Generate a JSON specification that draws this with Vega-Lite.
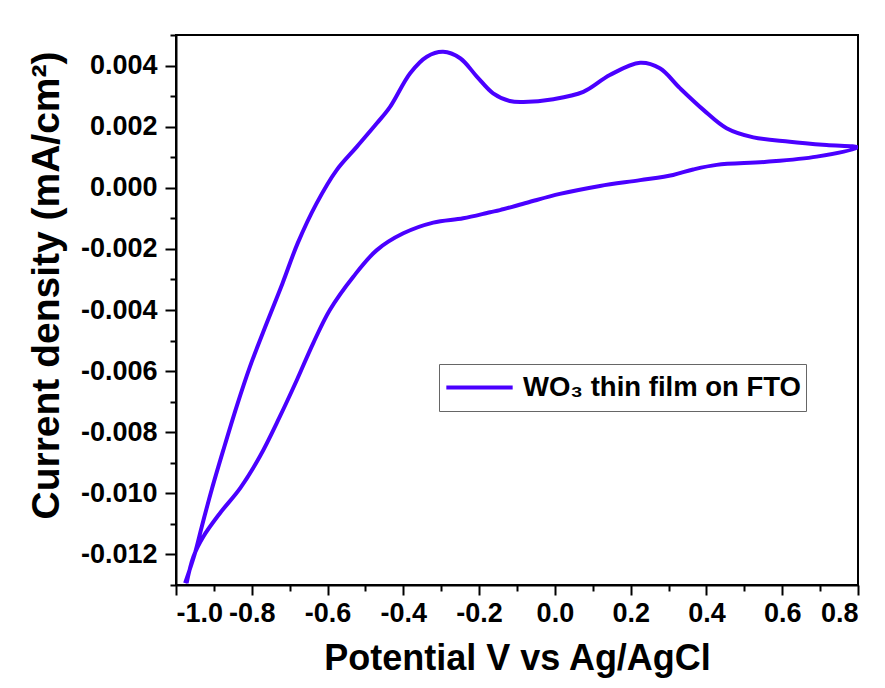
{
  "$schema": "https://vega.github.io/schema/vega-lite/v6.json",
  "width": 682,
  "height": 550,
  "autosize": {"type": "none"},
  "padding": {"left": 176, "top": 35, "right": 27, "bottom": 103},
  "background": "white",
  "config": {
    "view": {"stroke": "black", "strokeWidth": 2},
    "font": "Liberation Sans",
    "axis": {
      "grid": false,
      "domainColor": "black",
      "domainWidth": 2,
      "tickColor": "black",
      "tickWidth": 2,
      "labelColor": "black",
      "labelFont": "Liberation Sans",
      "labelFontWeight": "bold",
      "labelFontSize": 27,
      "titleFont": "Liberation Sans",
      "titleFontWeight": "bold",
      "titleColor": "black"
    }
  },
  "datasets": {
    "cv": [
      {"i": 1, "v": -0.976, "j": -0.01294, "s": "WO₃ thin film on FTO"},
      {"i": 2, "v": -0.950, "j": -0.01196, "s": "WO₃ thin film on FTO"},
      {"i": 3, "v": -0.932, "j": -0.01109, "s": "WO₃ thin film on FTO"},
      {"i": 4, "v": -0.906, "j": -0.00989, "s": "WO₃ thin film on FTO"},
      {"i": 5, "v": -0.875, "j": -0.00858, "s": "WO₃ thin film on FTO"},
      {"i": 6, "v": -0.840, "j": -0.00716, "s": "WO₃ thin film on FTO"},
      {"i": 7, "v": -0.805, "j": -0.00586, "s": "WO₃ thin film on FTO"},
      {"i": 8, "v": -0.761, "j": -0.00444, "s": "WO₃ thin film on FTO"},
      {"i": 9, "v": -0.719, "j": -0.00313, "s": "WO₃ thin film on FTO"},
      {"i": 10, "v": -0.679, "j": -0.00182, "s": "WO₃ thin film on FTO"},
      {"i": 11, "v": -0.629, "j": -0.00051, "s": "WO₃ thin film on FTO"},
      {"i": 12, "v": -0.576, "j": 0.00058, "s": "WO₃ thin film on FTO"},
      {"i": 13, "v": -0.523, "j": 0.00134, "s": "WO₃ thin film on FTO"},
      {"i": 14, "v": -0.470, "j": 0.00211, "s": "WO₃ thin film on FTO"},
      {"i": 15, "v": -0.435, "j": 0.00265, "s": "WO₃ thin film on FTO"},
      {"i": 16, "v": -0.382, "j": 0.00375, "s": "WO₃ thin film on FTO"},
      {"i": 17, "v": -0.338, "j": 0.00429, "s": "WO₃ thin film on FTO"},
      {"i": 18, "v": -0.295, "j": 0.00445, "s": "WO₃ thin film on FTO"},
      {"i": 19, "v": -0.250, "j": 0.00424, "s": "WO₃ thin film on FTO"},
      {"i": 20, "v": -0.206, "j": 0.00364, "s": "WO₃ thin film on FTO"},
      {"i": 21, "v": -0.163, "j": 0.00309, "s": "WO₃ thin film on FTO"},
      {"i": 22, "v": -0.119, "j": 0.00284, "s": "WO₃ thin film on FTO"},
      {"i": 23, "v": -0.083, "j": 0.00281, "s": "WO₃ thin film on FTO"},
      {"i": 24, "v": -0.004, "j": 0.00290, "s": "WO₃ thin film on FTO"},
      {"i": 25, "v": 0.075, "j": 0.00314, "s": "WO₃ thin film on FTO"},
      {"i": 26, "v": 0.145, "j": 0.00369, "s": "WO₃ thin film on FTO"},
      {"i": 27, "v": 0.225, "j": 0.00409, "s": "WO₃ thin film on FTO"},
      {"i": 28, "v": 0.277, "j": 0.00391, "s": "WO₃ thin film on FTO"},
      {"i": 29, "v": 0.330, "j": 0.00326, "s": "WO₃ thin film on FTO"},
      {"i": 30, "v": 0.392, "j": 0.00255, "s": "WO₃ thin film on FTO"},
      {"i": 31, "v": 0.453, "j": 0.00195, "s": "WO₃ thin film on FTO"},
      {"i": 32, "v": 0.524, "j": 0.00165, "s": "WO₃ thin film on FTO"},
      {"i": 33, "v": 0.620, "j": 0.00151, "s": "WO₃ thin film on FTO"},
      {"i": 34, "v": 0.717, "j": 0.00140, "s": "WO₃ thin film on FTO"},
      {"i": 35, "v": 0.800, "j": 0.00132, "s": "WO₃ thin film on FTO"},
      {"i": 36, "v": 0.691, "j": 0.00102, "s": "WO₃ thin film on FTO"},
      {"i": 37, "v": 0.559, "j": 0.00085, "s": "WO₃ thin film on FTO"},
      {"i": 38, "v": 0.427, "j": 0.00075, "s": "WO₃ thin film on FTO"},
      {"i": 39, "v": 0.365, "j": 0.00060, "s": "WO₃ thin film on FTO"},
      {"i": 40, "v": 0.312, "j": 0.00042, "s": "WO₃ thin film on FTO"},
      {"i": 41, "v": 0.225, "j": 0.00025, "s": "WO₃ thin film on FTO"},
      {"i": 42, "v": 0.119, "j": 0.00006, "s": "WO₃ thin film on FTO"},
      {"i": 43, "v": 0.013, "j": -0.00020, "s": "WO₃ thin film on FTO"},
      {"i": 44, "v": -0.074, "j": -0.00049, "s": "WO₃ thin film on FTO"},
      {"i": 45, "v": -0.145, "j": -0.00073, "s": "WO₃ thin film on FTO"},
      {"i": 46, "v": -0.171, "j": -0.00080, "s": "WO₃ thin film on FTO"},
      {"i": 47, "v": -0.242, "j": -0.00100, "s": "WO₃ thin film on FTO"},
      {"i": 48, "v": -0.321, "j": -0.00114, "s": "WO₃ thin film on FTO"},
      {"i": 49, "v": -0.400, "j": -0.00149, "s": "WO₃ thin film on FTO"},
      {"i": 50, "v": -0.470, "j": -0.00204, "s": "WO₃ thin film on FTO"},
      {"i": 51, "v": -0.532, "j": -0.00291, "s": "WO₃ thin film on FTO"},
      {"i": 52, "v": -0.594, "j": -0.00400, "s": "WO₃ thin film on FTO"},
      {"i": 53, "v": -0.638, "j": -0.00509, "s": "WO₃ thin film on FTO"},
      {"i": 54, "v": -0.681, "j": -0.00629, "s": "WO₃ thin film on FTO"},
      {"i": 55, "v": -0.726, "j": -0.00749, "s": "WO₃ thin film on FTO"},
      {"i": 56, "v": -0.778, "j": -0.00878, "s": "WO₃ thin film on FTO"},
      {"i": 57, "v": -0.830, "j": -0.00982, "s": "WO₃ thin film on FTO"},
      {"i": 58, "v": -0.884, "j": -0.01065, "s": "WO₃ thin film on FTO"},
      {"i": 59, "v": -0.928, "j": -0.01142, "s": "WO₃ thin film on FTO"},
      {"i": 60, "v": -0.954, "j": -0.01207, "s": "WO₃ thin film on FTO"},
      {"i": 61, "v": -0.972, "j": -0.01294, "s": "WO₃ thin film on FTO"}
    ],
    "dummy": [{"v": 0, "j": 0}]
  },
  "layer": [
    {
      "data": {"name": "cv"},
      "mark": {"type": "line", "strokeWidth": 4, "interpolate": "catmull-rom", "clip": true},
      "encoding": {
        "x": {
          "field": "v", "type": "quantitative",
          "scale": {"domain": [-1.0, 0.8], "nice": false, "zero": false},
          "axis": {
            "orient": "bottom",
            "values": [-1.0, -0.8, -0.6, -0.4, -0.2, 0.0, 0.2, 0.4, 0.6, 0.8],
            "labelExpr": "replace(format(datum.value, '.1f'), '−', '-')",
            "tickSize": 10,
            "labelPadding": 5,
            "title": "Potential V vs Ag/AgCl",
            "titleFontSize": 36,
            "titlePadding": 15
          }
        },
        "y": {
          "field": "j", "type": "quantitative",
          "scale": {"domain": [-0.013, 0.005], "nice": false, "zero": false},
          "axis": {
            "orient": "left",
            "values": [-0.012, -0.010, -0.008, -0.006, -0.004, -0.002, 0.000, 0.002, 0.004],
            "labelExpr": "replace(format(datum.value, '.3f'), '−', '-')",
            "tickSize": 11,
            "labelPadding": 8,
            "title": "Current density (mA/cm²)",
            "titleFontSize": 39,
            "titlePadding": 14,
            "titleY": 250
          }
        },
        "order": {"field": "i", "type": "quantitative"},
        "color": {
          "field": "s", "type": "nominal",
          "scale": {"range": ["#4a00ff"]},
          "legend": {
            "orient": "none",
            "legendX": 263,
            "legendY": 329,
            "title": null,
            "symbolType": "stroke",
            "symbolSize": 4400,
            "symbolStrokeWidth": 4,
            "clipHeight": 37,
            "labelOffset": 8,
            "labelFontSize": 27.5,
            "labelFontWeight": "bold",
            "labelFont": "Liberation Sans",
            "labelColor": "black",
            "labelLimit": 600,
            "strokeColor": "#666666",
            "fillColor": "white",
            "padding": 5
          }
        }
      }
    },
    {
      "data": {"name": "dummy"},
      "mark": {"type": "point", "opacity": 0},
      "encoding": {
        "x": {
          "field": "v", "type": "quantitative",
          "axis": {
            "orient": "bottom",
            "values": [-0.9, -0.7, -0.5, -0.3, -0.1, 0.1, 0.3, 0.5, 0.7],
            "labels": false, "domain": false, "tickSize": 6, "title": null
          }
        },
        "y": {
          "field": "j", "type": "quantitative",
          "axis": {
            "orient": "left",
            "values": [-0.013, -0.011, -0.009, -0.007, -0.005, -0.003, -0.001, 0.001, 0.003, 0.005],
            "labels": false, "domain": false, "tickSize": 6, "title": null
          }
        }
      }
    }
  ],
  "resolve": {"axis": {"x": "independent", "y": "independent"}}
}
